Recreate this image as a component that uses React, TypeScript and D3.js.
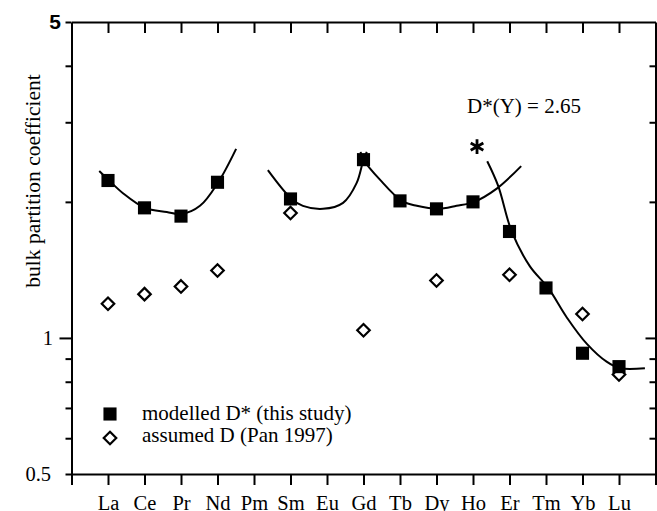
import React, { useRef, useEffect } from 'react';
import * as d3 from 'd3';

// REE order on the x axis (position 1..15, 0 and 16 are the frame edges)
const elements = ['La', 'Ce', 'Pr', 'Nd', 'Pm', 'Sm', 'Eu', 'Gd', 'Tb', 'Dy', 'Ho', 'Er', 'Tm', 'Yb', 'Lu'];

// modelled D* (this study)
const modelledEl = ['La', 'Ce', 'Pr', 'Nd', 'Sm', 'Gd', 'Tb', 'Dy', 'Ho', 'Er', 'Tm', 'Yb', 'Lu'];
const modelledD = [2.23, 1.94, 1.86, 2.21, 2.03, 2.48, 2.01, 1.93, 2.0, 1.72, 1.29, 0.925, 0.864];

// assumed D (Pan 1997)
const assumedEl = ['La', 'Ce', 'Pr', 'Nd', 'Sm', 'Gd', 'Dy', 'Er', 'Yb', 'Lu'];
const assumedD = [1.19, 1.25, 1.3, 1.41, 1.89, 1.04, 1.34, 1.38, 1.13, 0.83];

// fitted curves (x = element position, y = D)
const lreeX = [0.76, 1.03, 1.41, 2.01, 2.61, 3.02, 3.52, 4.02, 4.51];
const lreeD = [2.34, 2.23, 2.09, 1.94, 1.9, 1.88, 1.96, 2.21, 2.62];
const mreeLeftX = [5.38, 6.03, 6.34, 6.89, 7.44, 7.81, 8.0, 8.09];
const mreeLeftD = [2.35, 2.03, 1.96, 1.93, 1.99, 2.2, 2.48, 2.58];
const mreeRightX = [7.92, 8.0, 8.45, 9.05, 9.46, 10.04, 10.55, 11.03, 11.65, 12.32];
const mreeRightD = [2.58, 2.48, 2.24, 2.01, 1.96, 1.93, 1.96, 2.0, 2.14, 2.4];
const hreeX = [11.39, 11.69, 12.06, 12.56, 13.06, 13.57, 14.12, 14.66, 15.03, 15.71];
const hreeD = [2.46, 2.17, 1.72, 1.44, 1.29, 1.11, 0.97, 0.886, 0.857, 0.857];

// D*(Y) marker
const yttriumX = [11.11];
const yttriumD = [2.65];

const yTicks = [0.5, 0.6, 0.7, 0.8, 0.9, 1, 2, 3, 4, 5];
const yLabels = ['0.5', '1', '5'];

const App = () => {
  const ref = useRef<SVGSVGElement>(null);

  useEffect(() => {
    const svg = d3.select(ref.current);
    svg.selectAll('*').remove();

    const width = 657;
    const height = 511;
    const margin = { top: 22, right: 1.5, bottom: 37, left: 71.5 };
    const serif = '"Liberation Serif", "Times New Roman", serif';
    const sans = '"Liberation Sans", Arial, sans-serif';

    const x = d3.scaleLinear().domain([0, elements.length + 1]).range([margin.left, width - margin.right]);
    const y = d3.scaleLog().domain([0.5, 5]).range([height - margin.bottom, margin.top]);
    const pos = (el) => elements.indexOf(el) + 1;

    const style = (g) => {
      g.selectAll('path.domain').attr('stroke', '#000').attr('stroke-width', 2);
      g.selectAll('.tick line').attr('stroke', '#000').attr('stroke-width', 2);
    };

    // bottom axis with element names
    svg.append('g').attr('transform', `translate(0,${y(0.5)})`)
      .call(d3.axisBottom(x).tickValues(d3.range(0, elements.length + 2)).tickSize(11).tickSizeOuter(0).tickPadding(10)
        .tickFormat((i) => elements[i - 1] || ''))
      .call(style)
      .call(g => g.selectAll('text').attr('font-family', serif).attr('font-size', 20.5).attr('fill', '#000'));

    // top axis, ticks inward
    svg.append('g').attr('transform', `translate(0,${y(5)})`)
      .call(d3.axisTop(x).tickValues(d3.range(1, elements.length + 1)).tickSize(-11).tickSizeOuter(0).tickFormat(() => ''))
      .call(style);

    // left axis
    svg.append('g').attr('transform', `translate(${x(0)},0)`)
      .call(d3.axisLeft(y).tickValues(yTicks).tickSize(6).tickSizeOuter(0).tickFormat(() => ''))
      .call(style)
      .call(g => g.selectAll('.tick line').attr('x2', d => d === 1 ? -12 : -6));

    // right axis, ticks inward
    svg.append('g').attr('transform', `translate(${x(elements.length + 1)},0)`)
      .call(d3.axisRight(y).tickValues(yTicks.filter(v => v !== 0.5 && v !== 5)).tickSize(-6).tickSizeOuter(0).tickFormat(() => ''))
      .call(style)
      .call(g => g.selectAll('.tick line').attr('x2', d => d === 1 ? -10 : -6));

    // y tick labels
    svg.append('g').selectAll('text').data(yLabels).join('text')
      .attr('x', d => d === '5' ? 61 : d === '1' ? 53 : 51)
      .attr('y', d => y(+d))
      .attr('dy', '0.34em')
      .attr('text-anchor', 'end')
      .attr('font-family', d => d === '5' ? sans : serif)
      .attr('font-weight', d => d === '5' ? 'bold' : 'normal')
      .attr('font-size', d => d === '5' ? 21 : 20.5)
      .text(d => d);

    // y title
    svg.append('text')
      .attr('transform', 'translate(40,181) rotate(-90)')
      .attr('text-anchor', 'middle')
      .attr('font-family', serif)
      .attr('font-size', 21.5)
      .text('bulk partition coefficient');

    // curves
    const line = d3.line().x(d => x(d[0])).y(d => y(d[1])).curve(d3.curveCatmullRom.alpha(0.5));
    [[lreeX, lreeD], [mreeLeftX, mreeLeftD], [mreeRightX, mreeRightD], [hreeX, hreeD]].forEach(([xs, ds]) => {
      svg.append('path').datum(d3.zip(xs, ds)).attr('d', line)
        .attr('fill', 'none').attr('stroke', '#000').attr('stroke-width', 2);
    });

    // assumed D diamonds
    const diamond = d3.symbol().type(d3.symbolDiamond2).size(100);
    svg.append('g').selectAll('path').data(d3.zip(assumedEl, assumedD)).join('path')
      .attr('transform', d => `translate(${x(pos(d[0]))},${y(d[1])})`)
      .attr('d', diamond).attr('fill', '#fff').attr('stroke', '#000').attr('stroke-width', 2.2);

    // modelled D* squares
    const square = d3.symbol().type(d3.symbolSquare).size(172);
    svg.append('g').selectAll('path').data(d3.zip(modelledEl, modelledD)).join('path')
      .attr('transform', d => `translate(${x(pos(d[0]))},${y(d[1])})`)
      .attr('d', square).attr('fill', '#000');

    // Y asterisk
    const star = d3.symbol().type(d3.symbolAsterisk).size(150);
    svg.append('g').selectAll('path').data(d3.zip(yttriumX, yttriumD)).join('path')
      .attr('transform', d => `translate(${x(d[0])},${y(d[1])})`)
      .attr('d', star).attr('fill', 'none').attr('stroke', '#000').attr('stroke-width', 2.8);

    svg.append('text').attr('x', 467).attr('y', 113)
      .attr('font-family', serif).attr('font-size', 21).text('D*(Y) = 2.65');

    // legend
    const legend = svg.append('g');
    legend.append('path').attr('transform', 'translate(110,414)').attr('d', square).attr('fill', '#000');
    legend.append('path').attr('transform', 'translate(110,438)').attr('d', diamond)
      .attr('fill', '#fff').attr('stroke', '#000').attr('stroke-width', 2.2);
    legend.append('text').attr('x', 142).attr('y', 420).attr('font-family', serif).attr('font-size', 21)
      .text('modelled D* (this study)');
    legend.append('text').attr('x', 142).attr('y', 442).attr('font-family', serif).attr('font-size', 21)
      .text('assumed D (Pan 1997)');
  }, []);

  return <svg ref={ref} width={657} height={511} style={{ position: 'absolute', left: 0, top: 0, background: '#fff' }} />;
};

export default App;
